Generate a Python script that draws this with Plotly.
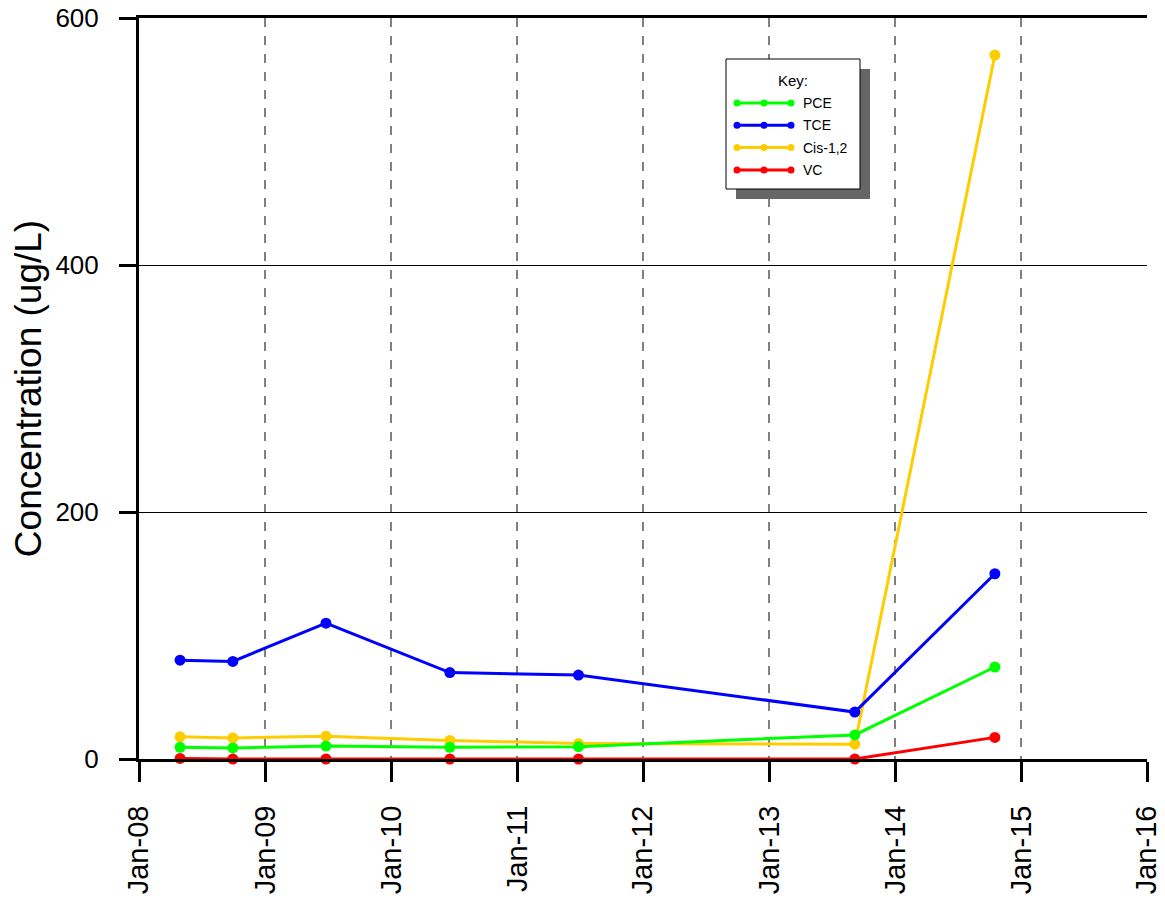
import plotly.graph_objects as go

# ---- data ----
dates = ["2008-04-29", "2008-09-29", "2009-06-26", "2010-06-20",
         "2011-06-28", "2013-09-06", "2014-10-17"]
pce = [9.5, 9, 10.5, 9.5, 10, 19.5, 74.5]
tce = [80, 79, 110, 70, 68, 38, 150]
cis = [18, 17, 18.5, 15, 12.5, 12, 570]
vc = [0.5, 0, 0, 0, 0, 0, 17.5]

series_names = ["PCE", "TCE", "Cis-1,2", "VC"]
series_colors = ["#00FF00", "#0000FF", "#FFCC00", "#FF0000"]
series_values = [pce, tce, cis, vc]

x_range = ["2008-01-01", "2016-01-01"]
y_ticks = [0, 200, 400, 600]
FONT = "Arial, Liberation Sans, sans-serif"

OFF = 8  # default page margin of the browser
W, H = 1165 - OFF, 902 - OFF
L, R, T, B = 131, 18, 10, 143
PW, PH = W - L - R, H - T - B

fig = go.Figure()
draw_order = [2, 0, 1, 3]
for i in draw_order:
    fig.add_trace(go.Scatter(
        x=dates, y=series_values[i], name=series_names[i], mode="lines+markers",
        line=dict(color=series_colors[i], width=3),
        marker=dict(color=series_colors[i], size=11),
        showlegend=False, cliponaxis=False))

def px_x(p):
    return (p - OFF - L) / PW

def px_y(p):
    return (H - B - (p - OFF)) / PH

shapes = []
annotations = []
# legend shadow and box
shapes.append(dict(type="rect", xref="paper", yref="paper",
                   x0=px_x(736), x1=px_x(870), y0=px_y(199), y1=px_y(69),
                   fillcolor="#666666", line=dict(width=0), layer="above"))
shapes.append(dict(type="rect", xref="paper", yref="paper",
                   x0=px_x(726), x1=px_x(860), y0=px_y(189), y1=px_y(59),
                   fillcolor="white", line=dict(color="black", width=1), layer="above"))
annotations.append(dict(text="Key:", xref="paper", yref="paper", x=px_x(793), y=px_y(80),
                        showarrow=False, font=dict(family=FONT, size=15, color="black"),
                        xanchor="center", yanchor="middle"))
for k, (nm, col) in enumerate(zip(series_names, series_colors)):
    yy = 103 + k * 22.3
    shapes.append(dict(type="line", xref="paper", yref="paper",
                       x0=px_x(737), x1=px_x(791), y0=px_y(yy), y1=px_y(yy),
                       line=dict(color=col, width=3), layer="above"))
    for mx in (737, 764, 791):
        r = 3.5
        shapes.append(dict(type="circle", xref="paper", yref="paper",
                           x0=px_x(mx - r), x1=px_x(mx + r), y0=px_y(yy + r), y1=px_y(yy - r),
                           fillcolor=col, line=dict(color=col, width=0), layer="above"))
    annotations.append(dict(text=nm, xref="paper", yref="paper", x=px_x(801), y=px_y(yy),
                            showarrow=False, font=dict(family=FONT, size=14, color="black"),
                            xanchor="left", yanchor="middle"))

fig.update_layout(
    width=W, height=H,
    margin=dict(l=L, r=R, t=T, b=B),
    paper_bgcolor="white", plot_bgcolor="white",
    font=dict(family=FONT, color="black"),
    shapes=shapes, annotations=annotations,
    showlegend=False,
)
fig.update_xaxes(
    range=x_range, type="date", dtick="M12", tick0="2008-01-01", tickformat="%b-%y",
    tickangle=-90, tickfont=dict(size=29, family=FONT, color="black"),
    ticks="outside", ticklen=20, tickwidth=3, tickcolor="black",
    ticklabelstandoff=12, ticklabeloverflow="allow",
    showline=True, linewidth=3, linecolor="black", mirror=True,
    showgrid=True, gridcolor="#808080", gridwidth=1.5, griddash="dash",
    zeroline=False, automargin=False,
)
fig.update_yaxes(
    range=[0, 600], tickvals=y_ticks,
    tickfont=dict(size=26, family=FONT, color="black"),
    ticks="outside", ticklen=17, tickwidth=3, tickcolor="black",
    ticklabelstandoff=15, ticklabeloverflow="allow",
    showline=True, linewidth=3, linecolor="black",
    showgrid=True, gridcolor="black", gridwidth=1,
    zeroline=False, automargin=False,
    title=dict(text="Concentration (ug/L)", font=dict(size=37, family=FONT, color="black"),
               standoff=4),
)

fig.write_html("out.html")
